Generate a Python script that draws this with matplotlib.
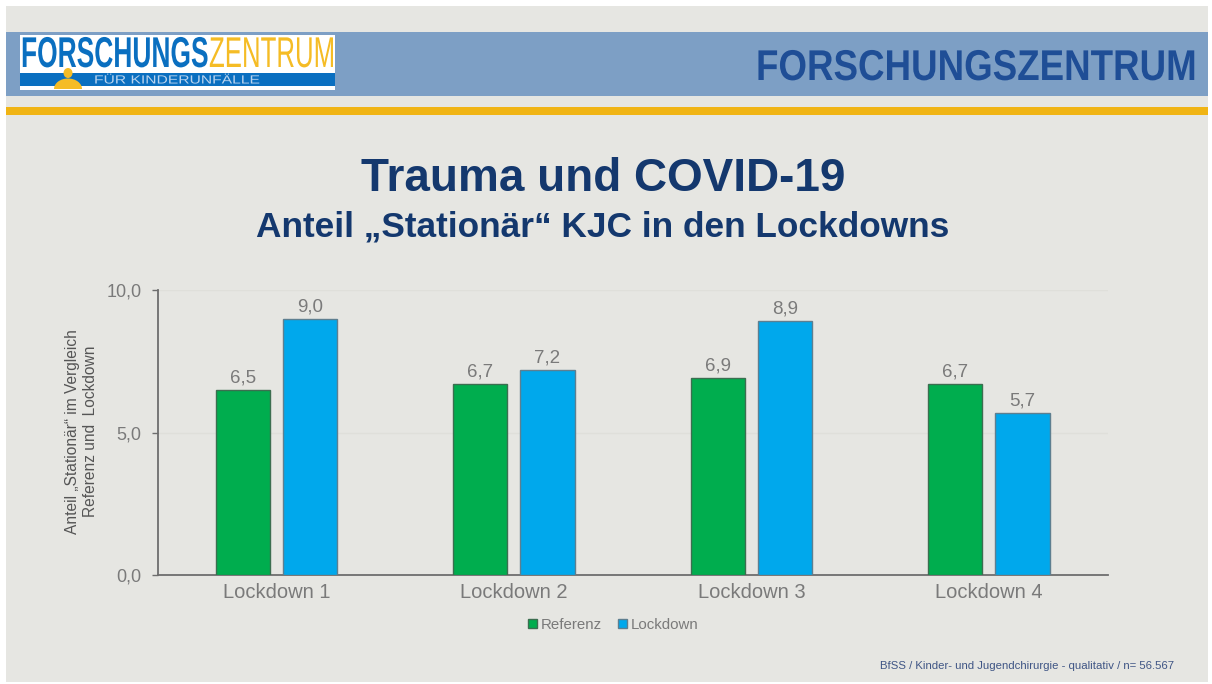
#coding=utf-8
import numpy as np
import matplotlib
matplotlib.use('Agg')
import matplotlib.pyplot as plt
from matplotlib.patches import Rectangle, Ellipse
from matplotlib.patheffects import AbstractPathEffect
from matplotlib.transforms import Affine2D

plt.rcParams['font.family'] = ['Liberation Sans', 'DejaVu Sans']

categories = ['Lockdown 1', 'Lockdown 2', 'Lockdown 3', 'Lockdown 4']
referenz = [6.5, 6.7, 6.9, 6.7]
lockdown = [9.0, 7.2, 8.9, 5.7]
y_ticks = [0, 5, 10]
y_tick_labels = ['0,0', '5,0', '10,0']

BG = '#E6E6E2'
BLUE_BAND = '#7D9FC5'
YELLOW = '#F0B414'
NAVY = '#14386E'
HEAD = '#1F4E96'
GREY = '#7A7A7A'
GREEN = '#00AD4E'
CYAN = '#00A8EC'

W, H = 1212, 684


class Stretch(AbstractPathEffect):
    # no narrow font installed, so scale the glyphs around the text anchor
    def __init__(self, sx, sy, x0, y0):
        super().__init__()
        self.sx, self.sy = sx, sy
        self.x0, self.y0 = x0, y0

    def draw_path(self, renderer, gc, tpath, affine, rgbFace=None):
        a = affine + Affine2D().translate(-self.x0, -self.y0).scale(self.sx, self.sy).translate(self.x0, self.y0)
        renderer.draw_path(gc, tpath, a, rgbFace)


def fit_text(t, width, size):
    # t is anchored on its baseline; width in px, size is the look-alike font size
    w = t.get_window_extent(renderer=fig.canvas.get_renderer()).width
    x0, y0 = t.get_position()
    t.set_path_effects([Stretch(width / w, size / t.get_fontsize(), x0, H - y0)])


fig = plt.figure(figsize=(W / 100, H / 100), dpi=100, facecolor='white')

# slide decoration in pixel coords
bg = fig.add_axes([0, 0, 1, 1])
bg.set_xlim(0, W)
bg.set_ylim(H, 0)
bg.axis('off')
bg.add_patch(Rectangle((6, 6), 1202, 676, fc=BG, ec='none'))
bg.add_patch(Rectangle((6, 32), 1202, 64, fc=BLUE_BAND, ec='none'))
bg.add_patch(Rectangle((6, 107), 1202, 8, fc=YELLOW, ec='none'))

# logo
bg.add_patch(Rectangle((20, 35), 315, 55, fc='white', ec='none'))
bg.add_patch(Rectangle((20, 73), 315, 13, fc='#0A6FC0', ec='none'))
t1 = bg.text(208, 67, 'FORSCHUNGS', color='#0A6FC0', fontsize=18, fontweight='bold', va='baseline', ha='right')
fit_text(t1, 187, 31)
t2 = bg.text(209, 67, 'ZENTRUM', color='#F5BC25', fontsize=19, va='baseline', ha='left')
fit_text(t2, 126, 31)
t4 = bg.text(94, 83.5, 'FÜR KINDERUNFÄLLE', color='#B9D3EE', fontsize=11.3, va='baseline', ha='left')
fit_text(t4, 166, 8.5)
bg.add_patch(Ellipse((68, 73), 9, 10, fc='#F5BC25', ec='none'))
body = Ellipse((68, 89), 28, 21, fc='#F5BC25', ec='none')
bg.add_patch(body)
body.set_clip_path(Rectangle((50, 70), 40, 19, transform=bg.transData))

t3 = bg.text(1197, 80, 'FORSCHUNGSZENTRUM', color=HEAD, fontsize=24, fontweight='bold',
             va='baseline', ha='right')
fit_text(t3, 441, 31)

bg.text(603, 191, 'Trauma und COVID-19', color=NAVY, fontsize=33, fontweight='bold',
        va='baseline', ha='center')
bg.text(603, 236, 'Anteil „Stationär“ KJC in den Lockdowns', color=NAVY, fontsize=25.4,
        fontweight='bold', va='baseline', ha='center')
bg.text(1174, 666, 'BfSS / Kinder- und Jugendchirurgie - qualitativ / n= 56.567', color='#3F5585',
        fontsize=8.2, va='center', ha='right')

# chart
ax = fig.add_axes([158 / W, 1 - 575 / H, 950 / W, 285 / H])
ax.patch.set_alpha(0)
x = np.arange(len(categories))
bw = 0.228
b1 = ax.bar(x - 0.143, referenz, bw, color=GREEN, edgecolor='#3C6E50', linewidth=1, label='Referenz', zorder=3)
b2 = ax.bar(x + 0.14, lockdown, bw, color=CYAN, edgecolor='#5E7F90', linewidth=1, label='Lockdown', zorder=3)
for bars in (b1, b2):
    ax.bar_label(bars, labels=[('%.1f' % b.get_height()).replace('.', ',') for b in bars],
                 padding=2.5, fontsize=13.5, color=GREY)

ax.set_xlim(-0.5, 3.5)
ax.set_ylim(0, 10)
ax.set_yticks(y_ticks)
ax.set_yticklabels(y_tick_labels, fontsize=13, color=GREY)
ax.set_xticks(x)
ax.set_xticklabels(categories, fontsize=14.5, color=GREY)
ax.tick_params(axis='x', length=0, pad=6)
ax.tick_params(axis='y', length=4, width=1, color='#6E6E6E', pad=8)
ax.grid(axis='y', color='#DFDFDA', linewidth=1, zorder=0)
for s in ('top', 'right'):
    ax.spines[s].set_visible(False)
for s in ('left', 'bottom'):
    ax.spines[s].set_color('#6E6E6E')
    ax.spines[s].set_linewidth(1.3)

ax.set_ylabel('Anteil „Stationär“ im Vergleich\nReferenz und  Lockdown', fontsize=11.2, color='#555555')
ax.yaxis.set_label_coords(-0.0635, 0.505)

ax.legend(loc='upper center', bbox_to_anchor=(0.479, -0.103), ncol=2, frameon=False, fontsize=10.8,
          labelcolor=GREY, handlelength=0.6, handleheight=0.6, handletextpad=0.25, columnspacing=1.1)

fig.savefig('out.png', dpi=100)
